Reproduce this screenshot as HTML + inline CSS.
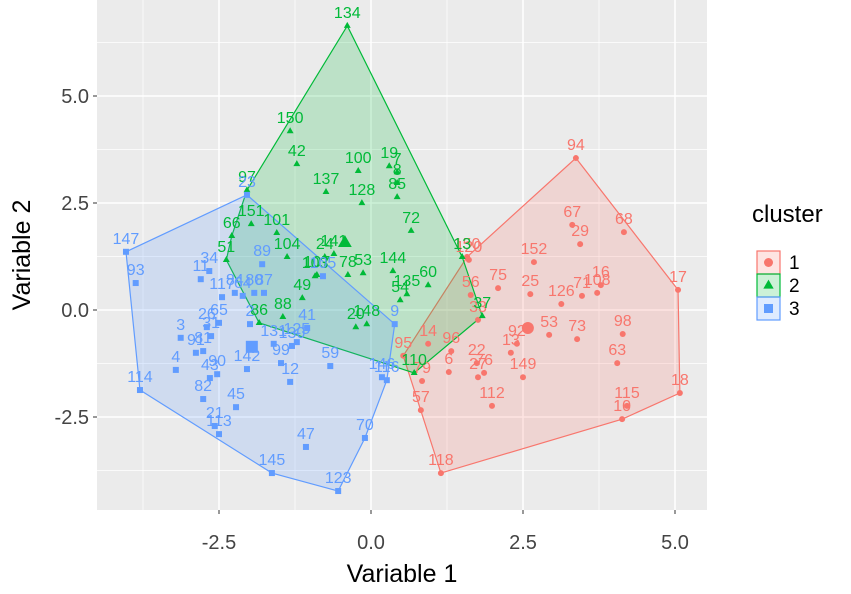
<!DOCTYPE html>
<html><head><meta charset="utf-8"><style>
body{margin:0;background:#fff;}
svg text{font-family:"Liberation Sans",sans-serif;}
</style></head><body>
<svg id="chart" width="851" height="589" xmlns="http://www.w3.org/2000/svg">
<rect x="97" y="0" width="610" height="510" fill="#EBEBEB"/>
<g id="grid"></g><g id="hulls"></g><g id="pts"></g><g id="axes"></g>
<text x="402" y="582" text-anchor="middle" font-size="25" fill="#000">Variable 1</text>
<text transform="translate(30,255) rotate(-90)" text-anchor="middle" font-size="25" fill="#000">Variable 2</text>
<text x="752" y="222" font-size="24" fill="#000">cluster</text>
<g id="legend"></g>
</svg>
<script>
const clusterNames=["1","2","3"];
const colors=["#F8766D","#00BA38","#619CFF"];
const xTicks=[-2.5,0,2.5,5];
const yTicks=[-2.5,0,2.5,5];
const xTickLabels=["-2.5","0.0","2.5","5.0"];
const yTickLabels=["-2.5","0.0","2.5","5.0"];
const c1Labels=["94","67","29","68","17","152","75","25","126","71","108","16","53","73","98","56","33","150","120","14","92","13","96","95","79","6","22","76","27","149","112","57","118","10","115","18","63"];
const c1X=[3.37,3.31,3.44,4.16,5.05,2.68,2.09,2.62,3.13,3.47,3.72,3.78,2.93,3.39,4.14,1.64,1.76,1.58,1.61,0.94,2.40,2.30,1.32,0.53,0.84,1.28,1.74,1.86,1.76,2.50,1.99,0.82,1.15,4.13,4.21,5.08,4.05];
const c1Y=[3.55,1.99,1.54,1.82,0.47,1.12,0.51,0.37,0.14,0.33,0.40,0.58,-0.58,-0.68,-0.56,0.35,-0.23,1.24,1.17,-0.79,-0.79,-1.00,-0.96,-1.07,-1.66,-1.45,-1.24,-1.47,-1.57,-1.57,-2.24,-2.34,-3.81,-2.55,-2.24,-1.94,-1.24];
const c2Labels=["134","150","42","100","19","7","8","137","128","85","97","66","151","101","51","104","72","141","24","103","107","78","53","144","135","54","60","49","88","86","20","148","13","37","110"];
const c2X=[-0.39,-1.33,-1.22,-0.21,0.30,0.43,0.43,-0.74,-0.15,0.43,-2.04,-2.29,-1.97,-1.55,-2.38,-1.38,0.66,-0.61,-0.76,-0.92,-0.89,-0.38,-0.13,0.36,0.59,0.48,0.94,-1.13,-1.45,-1.84,-0.25,-0.07,1.50,1.83,0.71];
const c2Y=[6.64,4.18,3.41,3.25,3.36,3.22,2.97,2.76,2.50,2.64,2.80,1.73,2.01,1.80,1.17,1.24,1.85,1.31,1.24,0.79,0.82,0.82,0.86,0.91,0.37,0.23,0.58,0.28,-0.16,-0.30,-0.40,-0.33,1.24,-0.14,-1.47];
const c3Labels=["147","23","93","34","11","89","117","84","64","80","87","65","26","2","3","91","31","81","4","114","43","90","82","142","45","21","113","145","123","47","70","146","116","12","59","99","125","130","131","41","9","105"];
const c3X=[-4.03,-2.04,-3.87,-2.66,-2.80,-1.79,-2.45,-2.24,-2.11,-1.92,-1.76,-2.50,-2.70,-1.99,-3.13,-2.88,-2.63,-2.76,-3.21,-3.80,-2.65,-2.53,-2.76,-2.04,-2.22,-2.57,-2.50,-1.63,-0.54,-1.07,-0.10,0.18,0.26,-1.33,-0.67,-1.48,-1.22,-1.30,-1.60,-1.05,0.39,-0.79];
const c3Y=[1.36,2.69,0.63,0.91,0.72,1.07,0.30,0.40,0.33,0.40,0.40,-0.30,-0.40,-0.33,-0.65,-1.00,-0.61,-0.96,-1.40,-1.87,-1.59,-1.50,-2.08,-1.38,-2.27,-2.71,-2.90,-3.81,-4.23,-3.20,-2.99,-1.57,-1.64,-1.68,-1.31,-1.24,-0.75,-0.84,-0.79,-0.42,-0.33,0.79];
const centroidX=[2.58,-0.43,-1.96];
const centroidY=[-0.42,1.57,-0.86];

const NS="http://www.w3.org/2000/svg";
const X0=97,X1=707,Y0=0,Y1=510;
const sx=v=>371+60.8*v, sy=v=>310-42.8*v;
function mk(tag,attrs,parent){const e=document.createElementNS(NS,tag);for(const k in attrs)e.setAttribute(k,attrs[k]);parent.appendChild(e);return e;}
const grid=document.getElementById('grid');
[-3.75,-1.25,1.25,3.75].forEach(v=>{const l=mk('line',{x1:sx(v),x2:sx(v),y1:Y0,y2:Y1,stroke:'#fff','stroke-width':0.7},grid);});
[-3.75,-1.25,1.25,3.75,6.25].forEach(v=>{const l=mk('line',{x1:X0,x2:X1,y1:sy(v),y2:sy(v),stroke:'#fff','stroke-width':0.7},grid);});
const axes=document.getElementById('axes');
xTicks.forEach((v,i)=>{
 const l=mk('line',{x1:sx(v),x2:sx(v),y1:Y0,y2:Y1,stroke:'#fff','stroke-width':1.5},grid);
 
 
 const t=mk('line',{x1:sx(v),x2:sx(v),y1:Y1,y2:Y1+4,stroke:'#333','stroke-width':1},axes);
 
 
 const tx=mk('text',{x:sx(v),y:549,'text-anchor':'middle','font-size':20,fill:'#444'},axes);tx.textContent=xTickLabels[i];
 
 
});
yTicks.forEach((v,i)=>{
 const l=mk('line',{x1:X0,x2:X1,y1:sy(v),y2:sy(v),stroke:'#fff','stroke-width':1.5},grid);
 
 
 const t=mk('line',{x1:X0-4,x2:X0,y1:sy(v),y2:sy(v),stroke:'#333','stroke-width':1},axes);
 
 
 const tx=mk('text',{x:89,y:sy(v)+7,'text-anchor':'end','font-size':20,fill:'#444'},axes);tx.textContent=yTickLabels[i];
 
 
});
function hull(P){P=P.slice().sort((a,b)=>a[0]-b[0]||a[1]-b[1]);const cr=(o,a,b)=>(a[0]-o[0])*(b[1]-o[1])-(a[1]-o[1])*(b[0]-o[0]);const lo=[],up=[];for(const p of P){while(lo.length>=2&&cr(lo[lo.length-2],lo[lo.length-1],p)<=0)lo.pop();lo.push(p);}for(let i=P.length-1;i>=0;i--){const p=P[i];while(up.length>=2&&cr(up[up.length-2],up[up.length-1],p)<=0)up.pop();up.push(p);}up.pop();lo.pop();return lo.concat(up);}
const clusters=[[c1X,c1Y,c1Labels],[c2X,c2Y,c2Labels],[c3X,c3Y,c3Labels]];
const hg=document.getElementById('hulls'),pg=document.getElementById('pts');
function marker(k,x,y,s,parent){
 if(k===0)return mk('circle',{cx:x,cy:y,r:s,fill:colors[0]},parent);
 if(k===1)return mk('polygon',{points:`${x},${y-s*1.3} ${x-s*1.15},${y+s*0.7} ${x+s*1.15},${y+s*0.7}`,fill:colors[1]},parent);
 return mk('rect',{x:x-s,y:y-s,width:2*s,height:2*s,fill:colors[2]},parent);
}
clusters.forEach((c,k)=>{
 const P=c[0].map((v,i)=>[sx(v),sy(c[1][i])]);
 const h=hull(P);
 const poly=mk('polygon',{points:h.map(p=>p.join(',')).join(' '),fill:colors[k],'fill-opacity':0.2,stroke:colors[k],'stroke-width':1.2},hg);
 
 
});
clusters.forEach((c,k)=>{
 c[0].forEach((v,i)=>{
  const x=sx(v),y=sy(c[1][i]);
  const m=marker(k,x,y,3,pg);
  
  
  const t=mk('text',{x:x,y:y-8,'text-anchor':'middle','font-size':16,fill:colors[k]},pg);t.textContent=c[2][i];
  
  
 });
 const cm=marker(k,sx(centroidX[k]),sy(centroidY[k]),6,pg);
 
 
});
const lg=document.getElementById('legend');
clusterNames.forEach((n,k)=>{
 const y=251+k*23;
 const r=mk('rect',{x:757,y:y,width:23,height:23,fill:colors[k],'fill-opacity':0.2,stroke:colors[k],'stroke-width':1.2},lg);
 
 
 marker(k,768.5,y+11.5,4.5,lg);
 const t=mk('text',{x:789,y:y+18,'font-size':19,fill:'#000'},lg);t.textContent=n;
 
 
});
</script>
</body></html>
